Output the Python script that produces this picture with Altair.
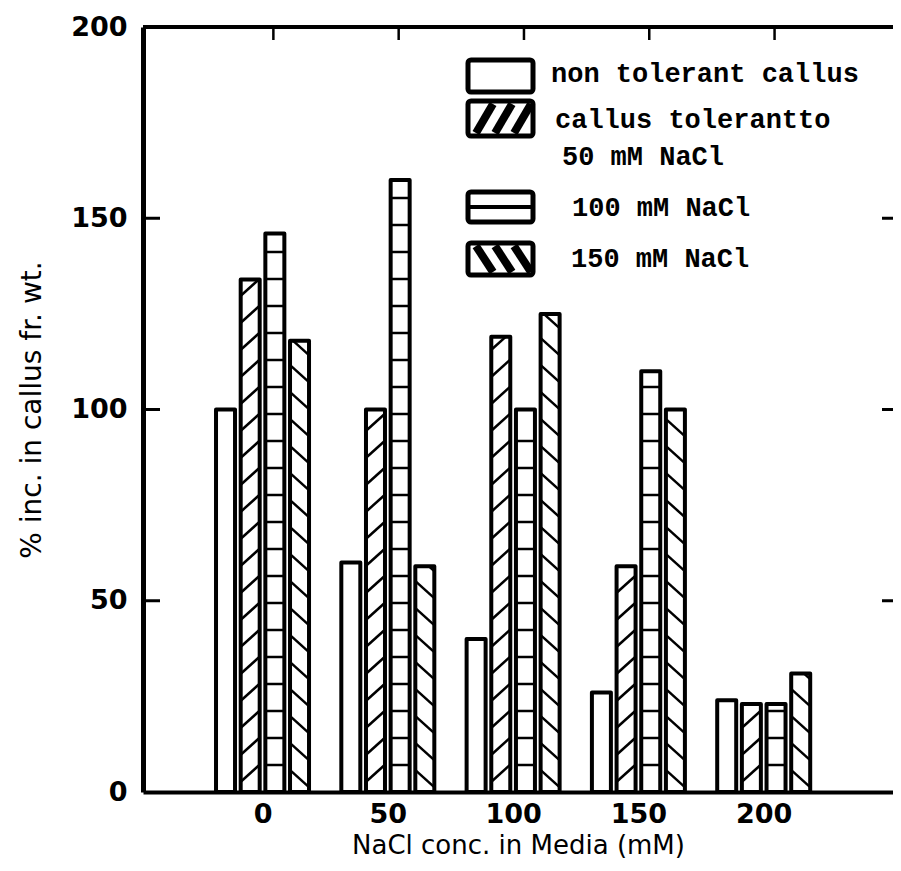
import altair as alt
import pandas as pd

# ---------------- data ----------------
conc = [0, 50, 100, 150, 200]
series_names = ["non tolerant callus", "callus tolerant to 50 mM NaCl",
                "callus tolerant to 100 mM NaCl", "callus tolerant to 150 mM NaCl"]
non_tolerant = [100, 60, 40, 26, 24]
tolerant_50 = [134, 100, 119, 59, 23]
tolerant_100 = [146, 160, 100, 110, 23]
tolerant_150 = [118, 59, 125, 100, 31]
x_tick_values = [0, 50, 100, 150, 200]
y_tick_values = [0, 50, 100, 150, 200]
legend_lines = ["non tolerant callus", "callus tolerantto", "50 mM NaCl",
                "100 mM NaCl", "150 mM NaCl"]

# ---------------- layout / style ----------------
W, H = 750, 765
X_DOMAIN = [-45.7, 249.6]
Y_DOMAIN = [0, 200]
PX_X = W / (X_DOMAIN[1] - X_DOMAIN[0])
PX_Y = H / (Y_DOMAIN[1] - Y_DOMAIN[0])
BAR_PITCH = 25 / PX_X
BAR_SIZE = 19
HATCH_HALF = 9 / PX_X
HATCH_STEP = 27 / PX_Y
HATCH_RISE = 16 / PX_Y
TOP_TICK_SHIFT = 11 / PX_X
patterns = ["open", "fwd", "ladder", "back"]
LABEL_FONT = "DejaVu Sans"
LEGEND_FONT = "Liberation Mono"

# ---------------- tables built from the arrays ----------------
rows = []
for si, (name, vals, pat) in enumerate(zip(series_names,
                                          [non_tolerant, tolerant_50, tolerant_100, tolerant_150],
                                          patterns)):
    for c, v in zip(conc, vals):
        rows.append(dict(conc=c, series=name, value=v, pattern=pat,
                         pos=c + (si - 1.5) * BAR_PITCH))
bars_df = pd.DataFrame(rows)

hatch = []
for r in rows:
    v, pos, pat = r["value"], r["pos"], r["pattern"]
    xl, xr = pos - HATCH_HALF, pos + HATCH_HALF
    if pat == "fwd":
        k = HATCH_STEP * 0.4
        while k < v - 0.8:
            x1, y1, x2, y2 = xl, k, xr, k + HATCH_RISE
            if y2 > v:
                t = (v - y1) / HATCH_RISE
                x2, y2 = xl + t * (xr - xl), v
            hatch.append(dict(x1=x1, y1=y1, x2=x2, y2=y2))
            k += HATCH_STEP
    elif pat == "back":
        k = HATCH_STEP * 0.2
        while k < v - 0.8:
            x1, y1, x2, y2 = xl, k + HATCH_RISE, xr, k
            if y1 > v:
                t = (y1 - v) / HATCH_RISE
                x1, y1 = xl + t * (xr - xl), v
            hatch.append(dict(x1=x1, y1=y1, x2=x2, y2=y2))
            k += HATCH_STEP
    elif pat == "ladder":
        k = HATCH_STEP
        while k < v - 1.5:
            hatch.append(dict(x1=xl, y1=k, x2=xr, y2=k))
            k += HATCH_STEP
hatch_df = pd.DataFrame(hatch)

xscale = alt.Scale(domain=X_DOMAIN, nice=False, zero=False)
yscale = alt.Scale(domain=Y_DOMAIN, nice=False, zero=True)

X_AXIS = alt.Axis(values=x_tick_values, title="NaCl conc. in Media (mM)",
                  ticks=False, grid=False, domain=True, domainColor="black",
                  domainWidth=4, labelFont=LABEL_FONT, labelFontSize=27,
                  labelFontWeight="bold", labelColor="black", labelPadding=9,
                  titleFont=LABEL_FONT, titleFontSize=26, titleFontWeight="normal",
                  titleColor="black", titlePadding=5)
Y_AXIS = alt.Axis(values=y_tick_values, title="% inc. in callus fr. wt.",
                  ticks=False, grid=False, domain=True, domainColor="black",
                  domainWidth=5, labelFont=LABEL_FONT, labelFontSize=27,
                  labelFontWeight="bold", labelColor="black", labelPadding=16,
                  titleFont=LABEL_FONT, titleFontSize=28, titleFontWeight="normal",
                  titleColor="black", titlePadding=24)

bars = alt.Chart(bars_df).mark_bar(
    size=BAR_SIZE, fill="white", stroke="black", strokeWidth=4, strokeJoin="round"
).encode(
    x=alt.X("pos:Q", scale=xscale, axis=X_AXIS),
    y=alt.Y("value:Q", scale=yscale, axis=Y_AXIS),
)

hatch_layer = alt.Chart(hatch_df).mark_rule(color="black", strokeWidth=2.5).encode(
    x=alt.X("x1:Q", scale=xscale, axis=X_AXIS),
    x2="x2:Q",
    y=alt.Y("y1:Q", scale=yscale, axis=Y_AXIS),
    y2="y2:Q",
)

inner_ticks_df = pd.DataFrame({"v": [v for v in y_tick_values if 0 < v < 200]})
left_ticks = alt.Chart(inner_ticks_df).mark_rule(color="black", strokeWidth=3).encode(
    y=alt.Y("v:Q", scale=yscale, axis=Y_AXIS), x=alt.value(0), x2=alt.value(17))
right_ticks = alt.Chart(inner_ticks_df).mark_rule(color="black", strokeWidth=3).encode(
    y=alt.Y("v:Q", scale=yscale, axis=Y_AXIS), x=alt.value(W - 11), x2=alt.value(W))

top_ticks = alt.Chart(pd.DataFrame({"v": x_tick_values})).transform_calculate(
    xt=f"datum.v + {TOP_TICK_SHIFT}"
).mark_rule(color="black", strokeWidth=2.5).encode(
    x=alt.X("xt:Q", scale=xscale, axis=X_AXIS), y=alt.value(0), y2=alt.value(13))

one = pd.DataFrame({"k": [0]})
top_line = alt.Chart(one).mark_rule(color="black", strokeWidth=4).encode(
    x=alt.value(0), x2=alt.value(W), y=alt.value(0))

# ---------------- hand-drawn legend ----------------
LEG_X = (325, 390)
LEG_BOX_Y = [(33, 65), (74, 109), (165, 195), (216, 248)]
LEG_TEXT_POS = [(408, 47), (412, 93), (419, 130), (429, 181), (428, 232)]

legend_layers = []
for (y0, y1) in LEG_BOX_Y:
    legend_layers.append(alt.Chart(one).mark_rect(
        fill="white", stroke="black", strokeWidth=5, cornerRadius=3
    ).encode(x=alt.value(LEG_X[0]), x2=alt.value(LEG_X[1]), y=alt.value(y0), y2=alt.value(y1)))


def seg(x1, y1, x2, y2, w):
    return alt.Chart(one).mark_rule(color="black", strokeWidth=w, strokeCap="butt").encode(
        x=alt.value(x1), y=alt.value(y1), x2=alt.value(x2), y2=alt.value(y2))


b2 = LEG_BOX_Y[1]
for j in range(3):
    xb = LEG_X[0] + 8 + j * 19
    legend_layers.append(seg(xb, b2[1] - 3, xb + 17, b2[0] + 3, 8))
b3 = LEG_BOX_Y[2]
legend_layers.append(seg(LEG_X[0], (b3[0] + b3[1]) / 2, LEG_X[1], (b3[0] + b3[1]) / 2, 4))
b4 = LEG_BOX_Y[3]
for j in range(3):
    xt = LEG_X[0] + 8 + j * 19
    legend_layers.append(seg(xt, b4[0] + 3, xt + 17, b4[1] - 3, 8))

for txt, (tx, ty) in zip(legend_lines, LEG_TEXT_POS):
    legend_layers.append(alt.Chart(pd.DataFrame({"label": [txt]})).mark_text(
        align="left", baseline="middle", font=LEGEND_FONT, fontSize=27,
        fontWeight="bold", color="black"
    ).encode(text="label:N", x=alt.value(tx), y=alt.value(ty)))

chart = alt.layer(
    bars, hatch_layer, left_ticks, right_ticks, top_ticks, top_line, *legend_layers
).properties(
    width=W, height=H,
    autosize="none",
    padding={"left": 135, "top": 19, "right": 0, "bottom": 69},
    background="white",
).configure_view(stroke=None)

chart.save("out.html", embed_options={"renderer": "svg", "actions": False})
